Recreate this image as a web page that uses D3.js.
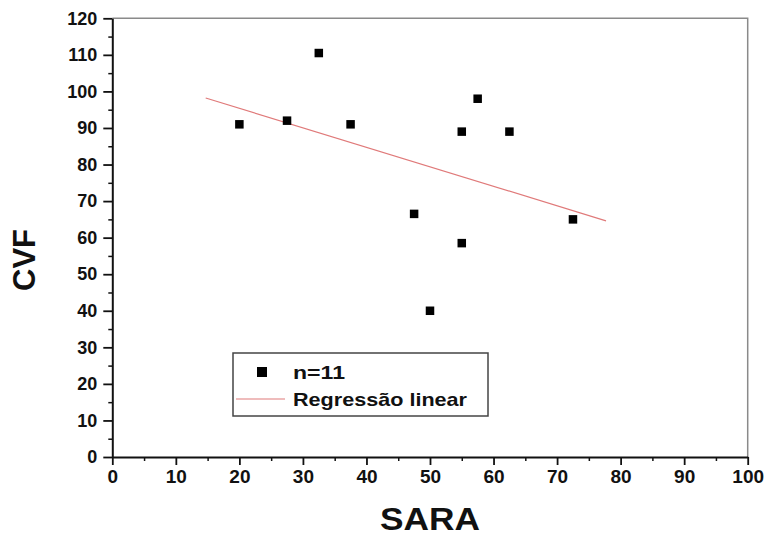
<!DOCTYPE html>
<html>
<head>
<meta charset="utf-8">
<script src="https://cdn.jsdelivr.net/npm/d3@7"></script>
<style>
	body { margin: 0; background: #fff; }
	svg text { font-family: "Liberation Sans", Arial, sans-serif; font-weight: bold; fill: #111; }
</style>
</head>
<body>
<svg id="chart" width="768" height="540"></svg>
<script>
/*=================
=== The data
=================*/
var sara = [20, 27.5, 32.5, 37.5, 47.5, 50, 55, 55, 57.5, 62.5, 72.5];
var cvf = [91, 92, 110.5, 91, 66.5, 40, 89, 58.5, 98, 89, 65];
var regRange = [14.7, 77.7]; // x extent of the fitted line as drawn
var xTicks = [0, 10, 20, 30, 40, 50, 60, 70, 80, 90, 100];
var yTicks = [0, 10, 20, 30, 40, 50, 60, 70, 80, 90, 100, 110, 120];
var legendLabels = ['n=11', 'Regressão linear'];

/*=================
=== The vars
=================*/
var svg = d3.select('#chart');
var plotL = 112.3, plotR = 747.7, plotT = 18.3, plotB = 457;

var x = d3.scaleLinear().domain([0, 100]).range([plotL, plotR]);
var y = d3.scaleLinear().domain([0, 120]).range([plotB, plotT]);

// least squares fit
var mx = d3.mean(sara), my = d3.mean(cvf);
var sxy = d3.sum(sara, function (d, i) { return (d - mx) * (cvf[i] - my); });
var sxx = d3.sum(sara, function (d) { return (d - mx) * (d - mx); });
var slope = sxy / sxx;
var icpt = my - slope * mx;
var regData = regRange.map(function (v) { return { x: v, y: icpt + slope * v }; });

/*=================
=== Frame
=================*/
// top and right borders (thin, grey)
svg.append('path')
	.attr('d', 'M' + plotL + ',' + plotT + 'H' + plotR + 'V' + plotB)
	.attr('fill', 'none')
	.attr('stroke', '#8a8a8a')
	.attr('stroke-width', 1.5);

// minor ticks
var minorX = d3.range(5, 100, 10);
var minorY = d3.range(5, 120, 10);

svg.append('g')
	.attr('transform', 'translate(0,' + plotB + ')')
	.call(d3.axisBottom(x).tickValues(minorX).tickSize(4).tickFormat(''))
	.call(function (g) { g.select('.domain').remove(); })
	.selectAll('line').attr('stroke', '#111').attr('stroke-width', 1.5);

svg.append('g')
	.attr('transform', 'translate(' + plotL + ',0)')
	.call(d3.axisLeft(y).tickValues(minorY).tickSize(4).tickFormat(''))
	.call(function (g) { g.select('.domain').remove(); })
	.selectAll('line').attr('stroke', '#111').attr('stroke-width', 1.5);

// major axes
var xAxis = svg.append('g')
	.attr('transform', 'translate(0,' + plotB + ')')
	.call(d3.axisBottom(x).tickValues(xTicks).tickSize(8).tickSizeOuter(0).tickPadding(5));

var yAxis = svg.append('g')
	.attr('transform', 'translate(' + plotL + ',0)')
	.call(d3.axisLeft(y).tickValues(yTicks).tickSize(9).tickSizeOuter(0).tickPadding(6));

[xAxis, yAxis].forEach(function (g) {
	g.select('.domain').attr('stroke', '#111').attr('stroke-width', 2);
	g.selectAll('.tick line').attr('stroke', '#111').attr('stroke-width', 1.8);
	g.selectAll('.tick text').attr('fill', '#111');
});
xAxis.selectAll('.tick text').style('font-size', '19px');
yAxis.selectAll('.tick text').style('font-size', '18px');

/*=================
=== Marks
=================*/
svg.append('path')
	.datum(regData)
	.attr('fill', 'none')
	.attr('stroke', '#e07a7a')
	.attr('stroke-width', 1.2)
	.attr('d', d3.line().x(function (d) { return x(d.x); }).y(function (d) { return y(d.y); }));

var sq = 8.5;
svg.append('g')
	.selectAll('rect')
	.data(sara)
	.join('rect')
	.attr('x', function (d) { return x(d) - sq / 2; })
	.attr('y', function (d, i) { return y(cvf[i]) - sq / 2; })
	.attr('width', sq)
	.attr('height', sq)
	.attr('fill', '#000');

/*=================
=== Titles
=================*/
svg.append('text')
	.attr('x', 430)
	.attr('y', 530)
	.attr('text-anchor', 'middle')
	.attr('textLength', 100)
	.attr('lengthAdjust', 'spacingAndGlyphs')
	.style('font-size', '32px')
	.text('SARA');

svg.append('text')
	.attr('transform', 'translate(35,260) rotate(-90)')
	.attr('text-anchor', 'middle')
	.style('font-size', '31px')
	.text('CVF');

/*=================
=== Legend
=================*/
var legend = svg.append('g');
legend.append('rect')
	.attr('x', 233).attr('y', 353)
	.attr('width', 255).attr('height', 63)
	.attr('fill', '#fff')
	.attr('stroke', '#444')
	.attr('stroke-width', 1.5);

legend.append('rect')
	.attr('x', 262 - 5).attr('y', 372 - 5)
	.attr('width', 10).attr('height', 10)
	.attr('fill', '#000');

legend.append('line')
	.attr('x1', 236).attr('x2', 285)
	.attr('y1', 399).attr('y2', 399)
	.attr('stroke', '#e07a7a')
	.attr('stroke-width', 1.2);

legend.selectAll('text.lbl')
	.data(legendLabels)
	.join('text')
	.attr('class', 'lbl')
	.attr('x', 293)
	.attr('y', function (d, i) { return 379 + i * 27; })
	.attr('textLength', function (d, i) { return i ? 174 : 52; })
	.attr('lengthAdjust', 'spacingAndGlyphs')
	.style('font-size', '19px')
	.text(function (d) { return d; });
</script>
</body>
</html>
